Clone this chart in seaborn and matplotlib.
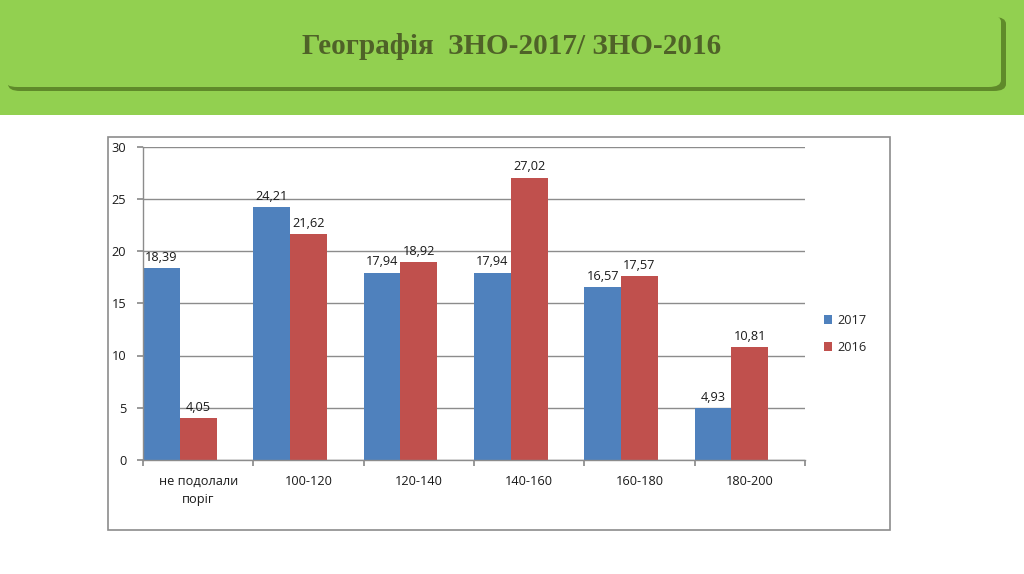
import pandas as pd
import numpy as np
import matplotlib
matplotlib.use("Agg")
import matplotlib.pyplot as plt
from matplotlib.patches import Rectangle, FancyBboxPatch, Patch
import seaborn as sns

# Дані з діаграми
categories = ["не подолали\nпоріг", "100-120", "120-140", "140-160", "160-180", "180-200"]
years = ["2017", "2016"]
values_2017 = [18.39, 24.21, 17.94, 17.94, 16.57, 4.93]
values_2016 = [4.05, 21.62, 18.92, 27.02, 17.57, 10.81]
y_ticks = [0, 5, 10, 15, 20, 25, 30]

df = pd.DataFrame({
    "cat": categories * 2,
    "year": [years[0]] * len(categories) + [years[1]] * len(categories),
    "val": values_2017 + values_2016,
})

sns.set_theme(style="white")
plt.rcParams["font.family"] = ["Open Sans", "DejaVu Sans"]

colors = {"2017": "#4f81bd", "2016": "#c0504d"}
fs = 9.2
W, H = 1024, 574
fig = plt.figure(figsize=(W / 100, H / 100), dpi=100)
fig.patch.set_facecolor("white")

# зелена смуга зверху
fig.patches.append(Rectangle((0, 1 - 115 / H), 1, 115 / H, transform=fig.transFigure,
                             facecolor="#92d050", edgecolor="none", zorder=0))
# тінь банера
fig.patches.append(FancyBboxPatch((8 / W, 1 - 91 / H), 998 / W, 74 / H,
                                  boxstyle="round,pad=0,rounding_size=0.012",
                                  transform=fig.transFigure, facecolor="#5f8a2a",
                                  edgecolor="none", zorder=1))
# банер
fig.patches.append(FancyBboxPatch((5 / W, 1 - 87 / H), 996 / W, 72 / H,
                                  boxstyle="round,pad=0,rounding_size=0.012",
                                  transform=fig.transFigure, facecolor="#92d050",
                                  edgecolor="none", zorder=2))
fig.text(0.5, 1 - 47 / H, "Географія  ЗНО-2017/ ЗНО-2016", ha="center", va="center",
         family=["Liberation Serif", "DejaVu Serif"], fontweight="bold",
         fontsize=21, color="#4f6228", zorder=3)

# рамка діаграми
fig.patches.append(Rectangle((108 / W, 1 - 530 / H), 782 / W, 393 / H, transform=fig.transFigure,
                             facecolor="white", edgecolor="#8c8c8c", linewidth=1.2, zorder=1))

ax = fig.add_axes([143 / W, 1 - 460 / H, (805 - 143) / W, (460 - 146.5) / H])
ax.set_zorder(5)
ax.patch.set_alpha(0)

sns.barplot(data=df, x="cat", y="val", hue="year", hue_order=years, order=categories,
            palette=colors, width=0.667, saturation=1, linewidth=0, legend=False, ax=ax)

for cont in ax.containers:
    labels = [f"{v:.2f}".replace(".", ",") for v in cont.datavalues]
    ax.bar_label(cont, labels=labels, padding=3, fontsize=fs, color="#1a1a1a")

n = len(categories)
ax.set_xlim(-0.333, n - 0.333)
ax.set_ylim(0, 30)
ax.set_yticks(y_ticks)
ax.yaxis.grid(True, color="#8c8c8c", linewidth=1)
ax.set_axisbelow(True)

# межі категорій — основні поділки, підписи — посередині
bounds = np.arange(n + 1) - 0.333
ax.set_xticks(bounds)
ax.set_xticklabels([""] * (n + 1))
ax.set_xticks(np.arange(n) + 0.167, minor=True)
ax.set_xticklabels(categories, minor=True, fontsize=fs, color="#1a1a1a", linespacing=1.5)
ax.tick_params(axis="x", which="minor", length=0, pad=11)
ax.tick_params(axis="x", which="major", length=4, color="#8c8c8c", direction="out", bottom=True)
ax.tick_params(axis="y", length=4, color="#8c8c8c", direction="out", left=True,
               labelsize=fs, labelcolor="#1a1a1a", pad=8)
ax.set_xlabel("")
ax.set_ylabel("")
for s in ["top", "right"]:
    ax.spines[s].set_visible(False)
for s in ["left", "bottom"]:
    ax.spines[s].set_color("#8c8c8c")
    ax.spines[s].set_linewidth(1)

handles = [Patch(facecolor=colors[y], edgecolor="none", label=y) for y in years]
fig.legend(handles=handles, loc="center left", bbox_to_anchor=(812 / W, 1 - 334 / H),
           frameon=False, fontsize=fs, handlelength=0.7, handleheight=0.7,
           handletextpad=0.4, labelspacing=1.1)

fig.savefig("out.png", dpi=100)
